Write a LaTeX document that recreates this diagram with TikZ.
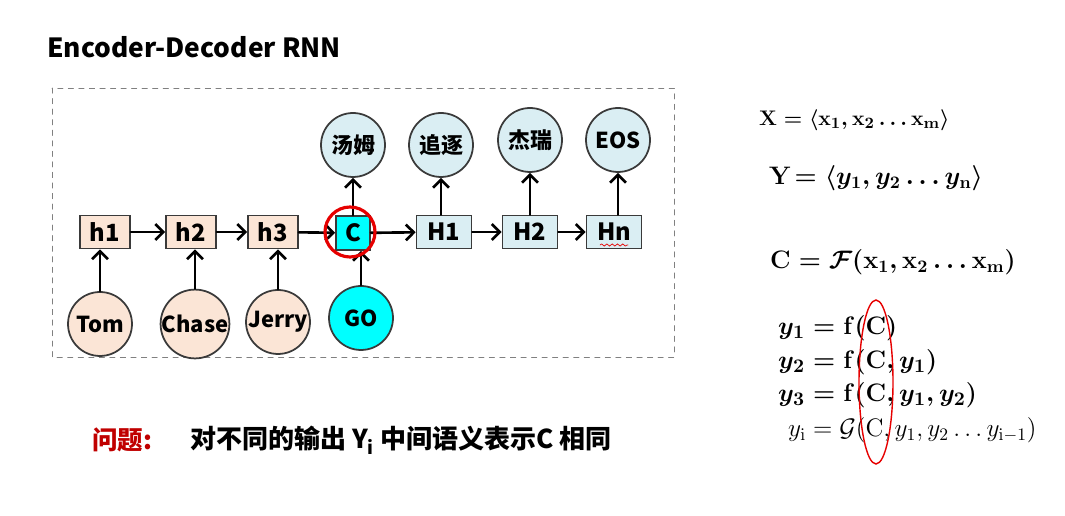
\documentclass[tikz,border=0pt]{standalone}
\usepackage{amsmath,amssymb}
\usepackage[no-math]{fontspec}
\newfontfamily\cjk{Noto Sans CJK SC}
\usetikzlibrary{arrows.meta,positioning,decorations.pathmorphing}
\definecolor{borde}{HTML}{3A3A3A}
\definecolor{durazno}{HTML}{FBE5D6}
\definecolor{celeste}{HTML}{DAEEF3}
\definecolor{cian}{HTML}{00FFFF}
\definecolor{rojo}{HTML}{E60000}
\definecolor{granate}{HTML}{C00000}

\begin{document}
\begin{tikzpicture}[x=0.02cm,y=-0.02cm,>={Straight Barb[length=4.5pt,width=9pt]},line cap=round,
    celda/.style={draw=borde,line width=1pt,minimum height=0.66cm,minimum width=1.0cm,inner sep=0pt,
                  font=\cjk\bfseries\fontsize{13.5}{13.5}\selectfont},
    bola/.style={circle,draw=borde,line width=1pt,minimum size=1.28cm,inner sep=0pt,
                 font=\cjk\bfseries\fontsize{12.5}{12.5}\selectfont},
    flecha/.style={->,line width=1.5pt},
    formula/.style={anchor=west,font=\boldmath\fontsize{14}{14}\selectfont}]
  \useasboundingbox (0,0) rectangle (1065,516);
  \node[anchor=west,font=\cjk\bfseries\fontsize{15}{15}\selectfont] (titulo) at (41,47) {Encoder-Decoder RNN};
  \draw[dashed,gray] (52,88) rectangle (674,357);
  % encoder
  \foreach \n/\x in {h1/105, h2/191, h3/273}
    \node[celda,fill=durazno] (\n) at (\x,232) {\n};
  \node[celda,fill=cian,minimum width=0.68cm,minimum height=0.68cm] (C) at (353,233) {C};
  % decoder
  \foreach \n/\x in {H1/444, H2/530, Hn/614}
    \node[celda,fill=celeste,minimum width=1.1cm] (\n) at (\x,232) {\n};
  \draw[rojo,decorate,decoration={snake,amplitude=0.6pt,segment length=3pt}] (600,245) -- (628,245);
  \foreach \a/\b in {h1/h2, h2/h3, h3/C, C/H1, H1/H2, H2/Hn}
    \draw[flecha] (\a) -- (\b);
  % entradas
  \foreach \n/\x/\y/\t/\s in {tom/100/324/Tom/h1, chase/195/324/Chase/h2, jerry/278/322/Jerry/h3}{
    \node[bola,fill=durazno] (\n) at (\x,\y) {\t};
    \draw[flecha] (\n.north) -- (\n.north |- \s.south);
  }
  \node[bola,fill=cian] (go) at (361,318) {GO};
  \draw[flecha] (go.north) -- (go.north |- C.south);
  % salidas
  \foreach \n/\x/\y/\t/\s in {tom2/353/145/汤姆/C, zhui/441/145/追逐/H1, jerry2/530/140/杰瑞/H2, eos/618/140/EOS/Hn}{
    \node[bola,fill=celeste] (\n) at (\x,\y) {\t};
    \draw[flecha] (\n.south |- \s.north) -- (\n.south);
  }
  \node[circle,draw=rojo,line width=1.8pt,minimum size=1.0cm] (marca) at (350,232) {};
  % texto de abajo
  \node[anchor=west,text=granate,font=\cjk\bfseries\fontsize{14.5}{14.5}\selectfont] (problema) at (86,440) {问题:};
  \node[anchor=west,font=\cjk\bfseries\fontsize{14.8}{14.8}\selectfont] (frase) at (184,440)
    {对不同的输出 Y\textsubscript{i} 中间语义表示C 相同};
  % formulas
  \node[formula,font=\boldmath\fontsize{13}{13}\selectfont] (fx) at (753,120) {$\mathbf{X} = \langle \mathbf{x_1}, \mathbf{x_2} \ldots \mathbf{x_m} \rangle$};
  \node[formula] (fy) at (763,178) {$\mathbf{Y}\!= \langle y_1, y_2 \ldots y_{\mathbf{n}} \rangle$};
  \node[formula] (fc) at (764,262) {$\mathbf{C} = \mathcal{F}(\mathbf{x_1}, \mathbf{x_2} \ldots \mathbf{x_m})$};
  \node[formula,font=\boldmath\fontsize{15}{15}\selectfont] (f1) at (772,328) {$y_1 = \mathbf{f}(\mathbf{C})$};
  \node[formula,font=\boldmath\fontsize{15}{15}\selectfont] (f2) at (772,362) {$y_2 = \mathbf{f}(\mathbf{C}, y_1)$};
  \node[formula,font=\boldmath\fontsize{15}{15}\selectfont] (f3) at (772,395) {$y_3 = \mathbf{f}(\mathbf{C}, y_1, y_2)$};
  \node[formula,font=\fontsize{14}{14}\selectfont] (fi) at (782,430) {$y_{\mathrm{i}} = \mathcal{G}(\mathrm{C}, y_1, y_2 \ldots y_{\mathrm{i}-1})$};
  \draw[rojo,thick] (876,382) ellipse [x radius=0.34cm, y radius=1.64cm];
\end{tikzpicture}
\end{document}
